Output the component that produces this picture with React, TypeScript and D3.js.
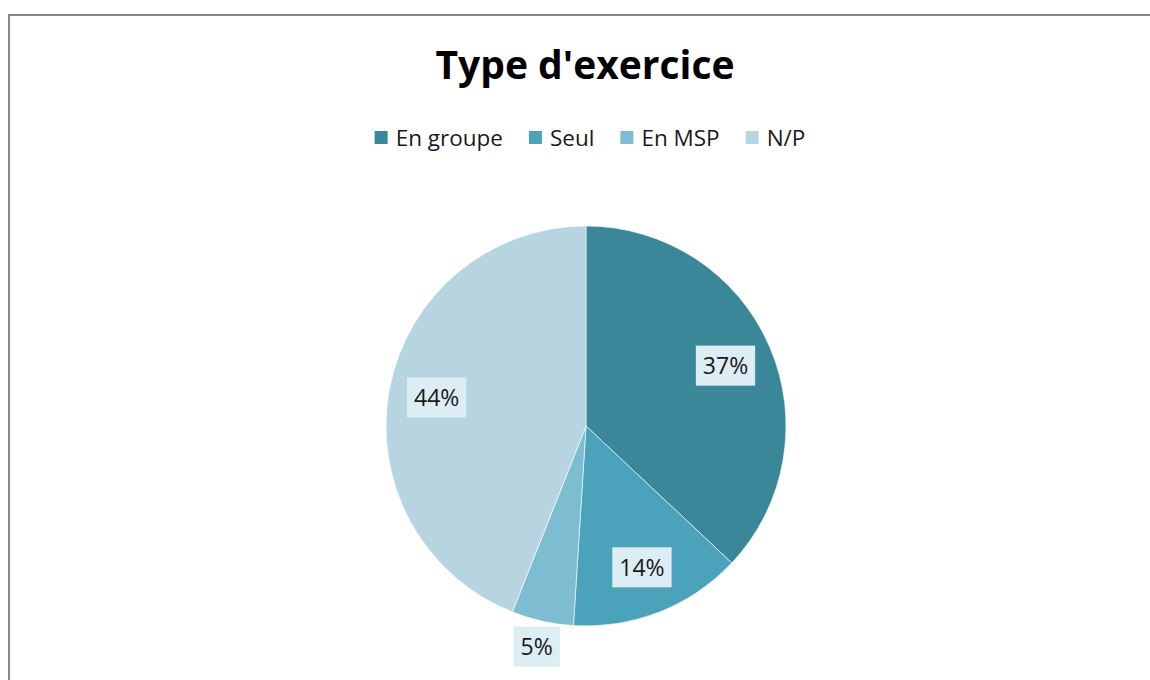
import * as d3 from "d3";
import { useRef, useEffect } from "react";

const categories = ["En groupe", "Seul", "En MSP", "N/P"];
const shares = [37, 14, 5, 44];
const colors = ["#3a8799", "#4aa3bb", "#7dbcd1", "#b7d5e0"];
const title = "Type d'exercice";

const W = 1150;
const H = 680;
const FONT = "'Open Sans', Lato, sans-serif";

const App = () => {
  const ref = useRef<SVGSVGElement>(null);

  useEffect(() => {
    const svg = d3.select(ref.current);
    svg.selectAll("*").remove();

    // chart frame, runs off the right and bottom edges
    svg.append("rect")
      .attr("x", 9).attr("y", 15)
      .attr("width", 1300).attr("height", 800)
      .attr("fill", "#fff")
      .attr("stroke", "#888")
      .attr("stroke-width", 2);

    svg.append("text")
      .attr("x", 585).attr("y", 79)
      .attr("text-anchor", "middle")
      .attr("font-family", FONT)
      .attr("font-weight", 700)
      .attr("font-size", 39)
      .attr("fill", "#000")
      .text(title);

    // legend, centred under the title
    const legend = svg.append("g");
    let cursor = 0;
    categories.forEach((c, i) => {
      const g = legend.append("g").attr("transform", `translate(${cursor},0)`);
      g.append("rect")
        .attr("x", 0).attr("y", -7)
        .attr("width", 13).attr("height", 13)
        .attr("fill", colors[i]);
      const t = g.append("text")
        .attr("x", 21).attr("y", 0)
        .attr("dy", "0.35em")
        .attr("font-family", FONT)
        .attr("font-size", 22.5)
        .attr("fill", "#1a1a1a")
        .text(c);
      const tw = (t.node() as SVGTextElement).getComputedTextLength();
      cursor += 21 + tw + 26;
    });
    const legendW = cursor - 26;
    legend.attr("transform", `translate(${590 - legendW / 2},138)`);

    const cx = 586, cy = 426, r = 200;
    const pie = d3.pie<number>().sort(null).value(d => d);
    const arcs = pie(shares);
    const arc = d3.arc<d3.PieArcDatum<number>>().innerRadius(0).outerRadius(r);
    const labelArc = d3.arc<d3.PieArcDatum<number>>().innerRadius(r * 0.76).outerRadius(r * 0.76);
    const outerArc = d3.arc<d3.PieArcDatum<number>>().innerRadius(r * 1.13).outerRadius(r * 1.13);

    const gp = svg.append("g").attr("transform", `translate(${cx},${cy})`);
    gp.selectAll("path")
      .data(arcs)
      .join("path")
      .attr("d", arc)
      .attr("fill", (_, i) => colors[i])
      .attr("stroke", "#fff")
      .attr("stroke-width", 0.6);

    const total = d3.sum(shares);
    arcs.forEach(a => {
      const pct = Math.round((a.data / total) * 100);
      const [lx, ly] = pct < 8 ? outerArc.centroid(a) : labelArc.centroid(a);
      const lg = gp.append("g").attr("transform", `translate(${lx},${ly})`);
      const bg = lg.append("rect").attr("fill", "#dcedf3");
      const t = lg.append("text")
        .attr("text-anchor", "middle")
        .attr("dy", "0.36em")
        .attr("font-family", FONT)
        .attr("font-size", 23)
        .attr("fill", "#1a1a1a")
        .text(`${pct}%`);
      const tw = (t.node() as SVGTextElement).getComputedTextLength();
      bg.attr("x", -tw / 2 - 7).attr("y", -20)
        .attr("width", tw + 14).attr("height", 40);
    });
  }, []);

  return (
    <svg
      ref={ref}
      width={W}
      height={H}
      style={{ position: "absolute", left: 0, top: 0, background: "#fff" }}
    />
  );
};

export default App;
